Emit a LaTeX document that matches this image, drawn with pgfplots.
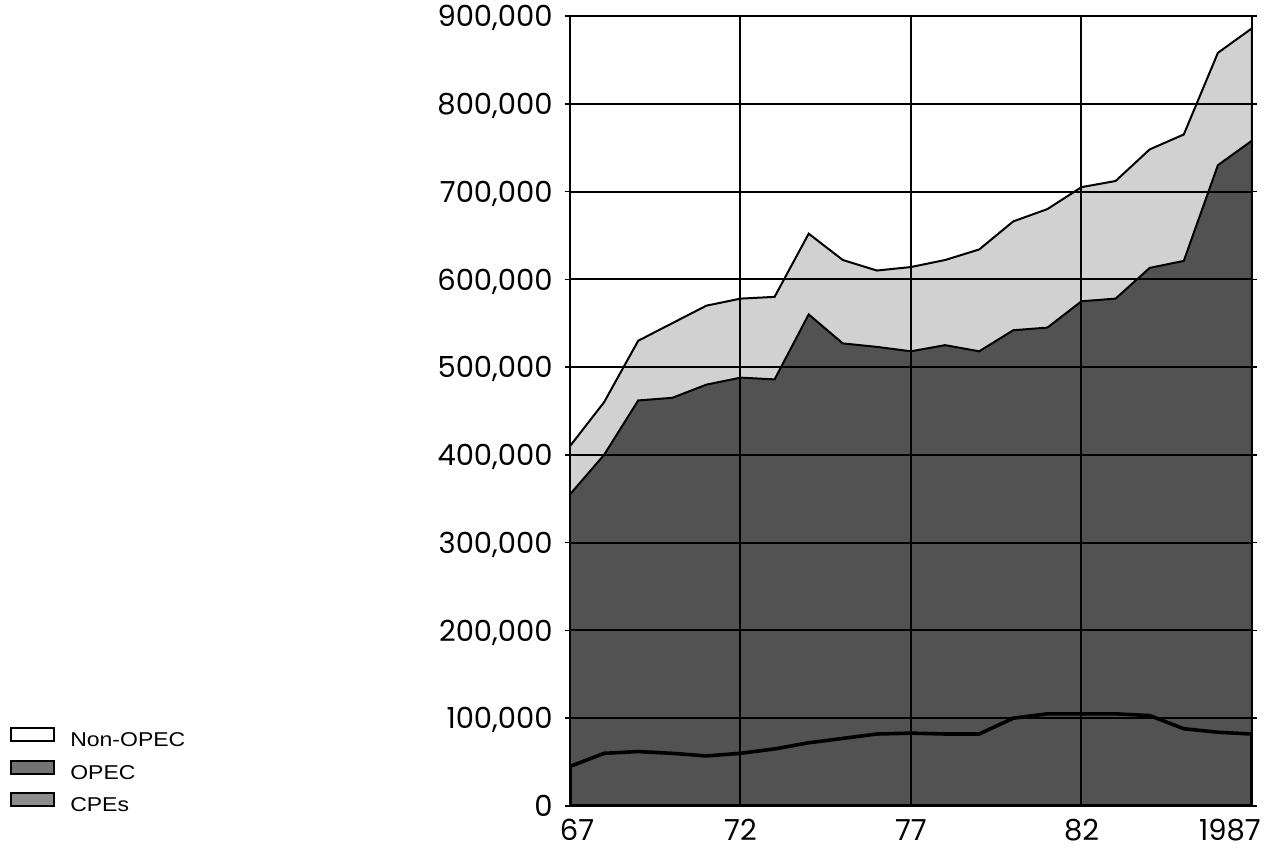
\documentclass[border=0pt]{standalone}
\usepackage{fontspec}
\usepackage{pgfplots}
\pgfplotsset{compat=1.18}
\usepackage{pgfplotstable}
\newfontfamily\tickfont{Poppins}
\newfontfamily\legfont[FakeStretch=1.15]{Liberation Sans}

% year index (0 = 1967), CPEs top, OPEC top, Non-OPEC top (cumulative)
\pgfplotstableread{
yr  low  mid  tot
0   45000  355000  410000
1   60000  400000  460000
2   62000  462000  530000
3   60000  465000  550000
4   57000  480000  570000
5   60000  488000  578000
6   65000  486000  580000
7   72000  560000  652000
8   77000  527000  622000
9   82000  523000  610000
10  83000  518000  614000
11  82000  525000  622000
12  82000  518000  634000
13  100000 542000  666000
14  105000 545000  680000
15  105000 575000  705000
16  105000 578000  712000
17  103000 613000  748000
18  88000  621000  765000
19  84000  730000  858000
20  82000  758000  886000
}\datatable

\begin{document}
\begin{tikzpicture}
\useasboundingbox (-285pt,-24pt) rectangle (350pt,403pt);
\begin{axis}[
    at={(0,0)}, anchor=south west,
    scale only axis,
    width=341pt, height=395pt,
    xmin=0, xmax=20,
    ymin=0, ymax=900000,
    xtick={0,5,10,15,20},
    xticklabels={\hspace*{7pt}67,72,77,82,1987\hspace*{22pt}},
    ytick={0,100000,...,900000},
    scaled y ticks=false,
    /pgf/number format/fixed,
    /pgf/number format/assume math mode=true,
    /pgf/number format/1000 sep={,},
    ticklabel style={font=\tickfont\fontsize{14.5}{17}\selectfont},
    xticklabel style={inner sep=0pt, text depth=0pt, anchor=north, yshift=-4pt},
    yticklabel style={inner sep=0pt, text depth=0pt, anchor=east, xshift=-6pt},
    grid=major,
    major grid style={black, line width=1pt},
    axis line style={black, line width=1pt},
    tick align=outside,
    major tick length=2.5pt,
    xtick style={draw=none},
    ytick style={black, line width=0.8pt},
    axis on top,
    legend cell align=left,
    legend style={at={(-0.821,0.100)}, anchor=north west, draw=none, fill=none,
        inner sep=0pt, row sep=4.5pt,
        font=\legfont\fontsize{10}{12}\selectfont,
        nodes={inner sep=0pt, text height=7.5pt, text depth=2pt},
        /tikz/every odd column/.append style={column sep=7.5pt}},
    legend image code/.code={\draw[#1] (0pt,0pt) rectangle (21.5pt,6.5pt);},
]
\addlegendimage{draw=black, fill=white, line width=0.9pt}
\addlegendentry{Non-OPEC}
\addlegendimage{draw=black, fill=black!55, line width=0.9pt}
\addlegendentry{OPEC}
\addlegendimage{draw=black, fill=black!45, line width=0.9pt}
\addlegendentry{CPEs}
\addplot[forget plot, draw=black, line width=1pt, fill=black!18] table[x=yr, y=tot] {\datatable} \closedcycle;
\addplot[forget plot, draw=black, line width=1pt, fill=black!68] table[x=yr, y=mid] {\datatable} \closedcycle;
\addplot[forget plot, draw=black, line width=1.8pt, fill=black!68] table[x=yr, y=low] {\datatable} \closedcycle;
\end{axis}
\end{tikzpicture}
\end{document}
